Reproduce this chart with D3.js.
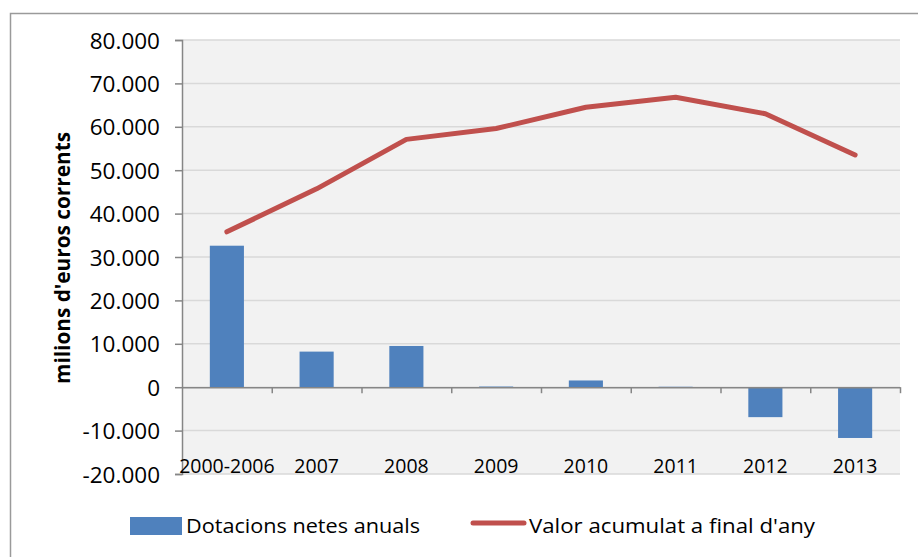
<!DOCTYPE html>
<html>
<head>
  <meta charset="utf-8">
  <style>
    body { margin: 0; background: #fff; }
    text { font-family: "Open Sans", "DejaVu Sans", sans-serif; fill: #000; }
  </style>
</head>
<body>
  <script src="https://cdn.jsdelivr.net/npm/d3@7/dist/d3.min.js"></script>
  <script>
    // data
    const categories = ["2000-2006", "2007", "2008", "2009", "2010", "2011", "2012", "2013"];
    const dotacions = [32600, 8200, 9500, 150, 1550, 100, -6900, -11700];
    const acumulat = [35800, 45700, 57100, 59600, 64500, 66800, 63000, 53500];
    const yTicks = [-20000, -10000, 0, 10000, 20000, 30000, 40000, 50000, 60000, 70000, 80000];
    const seriesNames = ["Dotacions netes anuals", "Valor acumulat a final d'any"];

    const W = 918, H = 557;
    const plot = { left: 182, right: 900, top: 40, bottom: 474 };

    const cat = d3.formatLocale({ decimal: ",", thousands: ".", grouping: [3], currency: ["", "€"], minus: "-" });
    const fmt = cat.format(",d");

    const svg = d3.select("body").append("svg")
      .attr("width", W)
      .attr("height", H);

    // outer chart frame (cut off by the picture on the right / bottom)
    svg.append("rect")
      .attr("x", 10.5).attr("y", 13.5)
      .attr("width", 1000).attr("height", 1000)
      .attr("fill", "none")
      .attr("stroke", "#9a9a9a")
      .attr("stroke-width", 1.5);

    var x = d3.scaleBand().domain(categories).range([plot.left, plot.right]);
    var xEdge = d3.scaleLinear().domain([0, categories.length]).range([plot.left, plot.right]);
    var y = d3.scaleLinear().domain([-20000, 80000]).range([plot.bottom, plot.top]);

    // plot background
    svg.append("rect")
      .attr("x", plot.left).attr("y", plot.top)
      .attr("width", plot.right - plot.left)
      .attr("height", plot.bottom - plot.top)
      .attr("fill", "#f2f2f2");

    // gridlines
    svg.append("g")
      .selectAll("line")
      .data(yTicks)
      .enter()
      .append("line")
      .attr("x1", plot.left).attr("x2", plot.right)
      .attr("y1", d => y(d)).attr("y2", d => y(d))
      .attr("stroke", "#d9d9d9")
      .attr("stroke-width", 1.5);

    // bars
    var barW = x.bandwidth() * 0.38;
    svg.append("g")
      .selectAll("rect")
      .data(categories)
      .enter()
      .append("rect")
      .attr("x", d => x(d) + (x.bandwidth() - barW) / 2)
      .attr("width", barW)
      .attr("y", (d, i) => y(Math.max(0, dotacions[i])))
      .attr("height", (d, i) => Math.max(1, Math.abs(y(dotacions[i]) - y(0))))
      .attr("fill", "#4f81bd");

    // y axis
    var yAxis = d3.axisLeft(y).tickValues(yTicks).tickFormat(fmt).tickSize(7).tickPadding(15);
    var gy = svg.append("g")
      .attr("transform", `translate(${plot.left},0)`)
      .call(yAxis);
    gy.select(".domain").attr("stroke", "#868686").attr("stroke-width", 1.5);
    gy.selectAll(".tick line").attr("stroke", "#868686").attr("stroke-width", 1.5);
    gy.selectAll("text").style("font-size", "22.5px").attr("dy", "0.36em");

    // zero axis with tick marks between categories
    var gx0 = svg.append("g")
      .attr("transform", `translate(0,${y(0)})`)
      .call(d3.axisBottom(xEdge).tickValues(d3.range(1, categories.length + 1)).tickFormat("").tickSizeInner(6).tickSizeOuter(0));
    gx0.select(".domain").attr("stroke", "#868686").attr("stroke-width", 1.5);
    gx0.selectAll(".tick line").attr("stroke", "#868686").attr("stroke-width", 1.5);

    // category labels sitting at the bottom of the plot
    var gx = svg.append("g")
      .attr("transform", `translate(0,${plot.bottom})`)
      .call(d3.axisBottom(x).tickSize(0));
    gx.select(".domain").remove();
    gx.selectAll("text")
      .style("font-size", "19.5px")
      .attr("y", 0)
      .attr("dy", "-0.05em");

    // line
    var line = d3.line()
      .x((d, i) => x(categories[i]) + x.bandwidth() / 2)
      .y(d => y(d));
    svg.append("path")
      .datum(acumulat)
      .attr("d", line)
      .attr("fill", "none")
      .attr("stroke", "#c0504d")
      .attr("stroke-width", 5)
      .attr("stroke-linecap", "round")
      .attr("stroke-linejoin", "round");

    // y axis title
    svg.append("text")
      .attr("transform", "translate(70,258) rotate(-90)")
      .attr("text-anchor", "middle")
      .style("font-size", "21.5px")
      .style("font-weight", "bold")
      .attr("textLength", 252)
      .attr("lengthAdjust", "spacingAndGlyphs")
      .text("milions d'euros corrents");

    // legend
    var legend = svg.append("g");
    legend.append("rect")
      .attr("x", 130).attr("y", 517)
      .attr("width", 52).attr("height", 18)
      .attr("fill", "#4f81bd");
    legend.append("text")
      .attr("x", 186).attr("y", 533)
      .style("font-size", "19.5px")
      .attr("textLength", 234)
      .attr("lengthAdjust", "spacingAndGlyphs")
      .text(seriesNames[0]);
    legend.append("line")
      .attr("x1", 473).attr("x2", 524)
      .attr("y1", 523).attr("y2", 523)
      .attr("stroke", "#c0504d")
      .attr("stroke-width", 5)
      .attr("stroke-linecap", "round");
    legend.append("text")
      .attr("x", 529).attr("y", 533)
      .style("font-size", "19.5px")
      .attr("textLength", 286)
      .attr("lengthAdjust", "spacingAndGlyphs")
      .text(seriesNames[1]);
  </script>
</body>
</html>
